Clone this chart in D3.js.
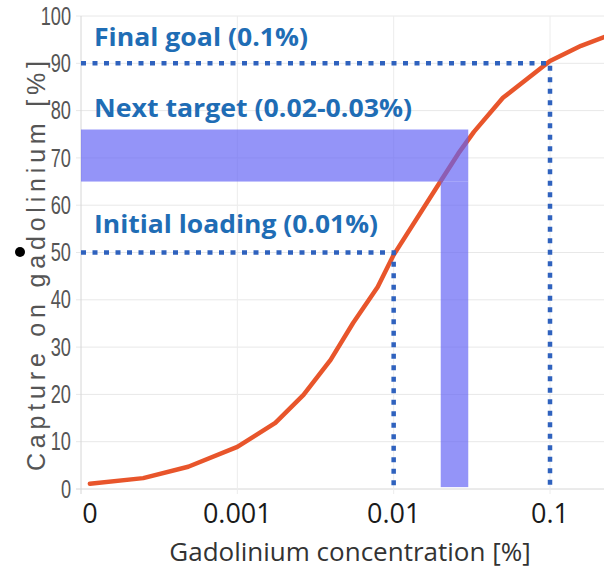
<!DOCTYPE html>
<html>
<head>
<meta charset="utf-8">
<script src="https://cdn.jsdelivr.net/npm/d3@7"></script>
<style>
  html, body { margin: 0; padding: 0; background: #fff; }
  svg { display: block; }
</style>
</head>
<body>
<svg id="chart" width="604" height="570"></svg>
<script>
// Gadolinium capture curve (log concentration axis)
const concentration = [0.000114, 0.00025, 0.000485, 0.001, 0.00175, 0.00265, 0.00395, 0.0055, 0.0079, 0.01, 0.02, 0.026, 0.0326, 0.05, 0.1, 0.158, 0.225];
const capture       = [1.1, 2.3, 4.7, 8.9, 14.0, 19.9, 27.3, 35.1, 42.7, 49.5, 65.1, 71.0, 75.5, 82.7, 90.5, 93.7, 95.6];

const xTickValues = [0.000114, 0.001, 0.01, 0.1];
const xTickLabels = ["0", "0.001", "0.01", "0.1"];
const xGridValues = [0.0001, 0.001, 0.01, 0.1];
const yTickValues = [0, 10, 20, 30, 40, 50, 60, 70, 80, 90, 100];

// Milestones
const milestoneLabels = ["Initial loading (0.01%)", "Final goal (0.1%)"];
const milestoneConc   = [0.01, 0.1];
const milestoneCap    = [50, 90];

// Target range
const targetLabel = "Next target (0.02-0.03%)";
const targetConc  = [0.02, 0.03];
const targetCap   = [65, 76];

const svg = d3.select("#chart");
const x = d3.scaleLog().domain([0.0001, 0.1]).range([81, 550]);
const y = d3.scaleLinear().domain([0, 100]).range([489, 16]);
const xRight = 604;

// grid
const grid = svg.append("g");
grid.selectAll("line.h").data(yTickValues).join("line")
  .attr("x1", 76).attr("x2", xRight)
  .attr("y1", d => y(d)).attr("y2", d => y(d))
  .attr("stroke", d => d === 0 ? "#d6d6d6" : "#e8e8e8").attr("stroke-width", 1);
grid.selectAll("line.v").data(xGridValues).join("line")
  .attr("x1", d => x(d)).attr("x2", d => x(d))
  .attr("y1", y(100)).attr("y2", y(0) + 5)
  .attr("stroke", (d, i) => i === 0 ? "#d6d6d6" : "#ececec").attr("stroke-width", 1);

// y tick labels (condensed)
svg.append("g").selectAll("text").data(yTickValues).join("text")
  .attr("transform", d => `translate(71,${y(d)}) scale(0.7,1)`)
  .attr("text-anchor", "end").attr("dominant-baseline", "central")
  .attr("font-family", "'Liberation Sans', Arial, sans-serif")
  .attr("font-size", 26).attr("fill", "#555")
  .text(d => d);

// x tick labels
svg.append("g").selectAll("text").data(xTickValues).join("text")
  .attr("x", d => x(d)).attr("y", 523)
  .attr("text-anchor", "middle")
  .attr("font-family", "'Open Sans', sans-serif")
  .attr("font-size", 27).attr("fill", "#1a1a1a")
  .text((d, i) => xTickLabels[i]);

// axis titles
svg.append("text")
  .attr("x", 350).attr("y", 561).attr("text-anchor", "middle")
  .attr("font-family", "'Open Sans', sans-serif")
  .attr("font-size", 26).attr("fill", "#333")
  .text("Gadolinium concentration [%]");

svg.append("text")
  .attr("transform", "translate(45,266) rotate(-90)")
  .attr("text-anchor", "middle")
  .attr("font-family", "'Liberation Sans', Arial, sans-serif")
  .attr("font-size", 25).attr("fill", "#555")
  .attr("textLength", 410).attr("lengthAdjust", "spacing")
  .text("Capture on gadolinium [%]");

// curve
const pts = concentration.map((c, i) => [c, capture[i]]);
svg.append("path")
  .datum(pts)
  .attr("fill", "none").attr("stroke", "#e8552b").attr("stroke-width", 4.5)
  .attr("stroke-linejoin", "round").attr("stroke-linecap", "round")
  .attr("d", d3.line().x(d => x(d[0])).y(d => y(d[1])));

// target band (translucent overlay)
const band = svg.append("g").attr("fill", "#6262f5").attr("fill-opacity", 0.68);
band.append("rect")
  .attr("x", x(0.0001)).attr("width", x(targetConc[1]) - x(0.0001))
  .attr("y", y(targetCap[1])).attr("height", y(targetCap[0]) - y(targetCap[1]));
band.append("rect")
  .attr("x", x(targetConc[0])).attr("width", x(targetConc[1]) - x(targetConc[0]))
  .attr("y", y(targetCap[0])).attr("height", y(0.4) - y(targetCap[0]));

// milestone dotted guides
const guides = svg.append("g")
  .attr("fill", "none").attr("stroke", "#2f62be").attr("stroke-width", 4.5)
  .attr("stroke-dasharray", "5 6.5");
milestoneConc.forEach((c, i) => {
  guides.append("path")
    .attr("d", `M${x(0.0001)},${y(milestoneCap[i])}H${x(c)}V${y(0.4)}`);
});

// annotation labels
const annos = [
  { text: milestoneLabels[1], y: 46, w: 214 },
  { text: targetLabel, y: 117, w: 318 },
  { text: milestoneLabels[0], y: 233, w: 284 }
];
svg.append("g").selectAll("text").data(annos).join("text")
  .attr("x", 94).attr("y", d => d.y)
  .attr("font-family", "'Open Sans', sans-serif").attr("font-weight", 700)
  .attr("font-size", 25).attr("fill", "#1f6db5")
  .attr("textLength", d => d.w).attr("lengthAdjust", "spacingAndGlyphs")
  .text(d => d.text);

// bullet
svg.append("circle").attr("cx", 20).attr("cy", 252).attr("r", 5).attr("fill", "#000");
</script>
</body>
</html>
